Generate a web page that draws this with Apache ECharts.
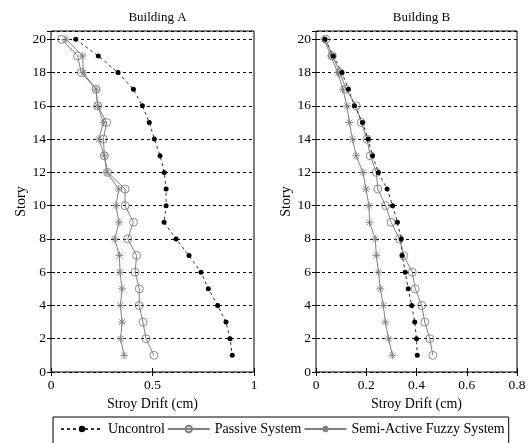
<!DOCTYPE html>
<html>
<head>
<meta charset="utf-8">
<script src="https://cdn.jsdelivr.net/npm/echarts@6/dist/echarts.min.js"></script>
<style>
  html, body { margin: 0; padding: 0; background: #fff; }
  #chart { width: 531px; height: 443px; }
</style>
</head>
<body>
<div id="chart"></div>
<script>
// Story numbers, top floor first
var stories = [20, 19, 18, 17, 16, 15, 14, 13, 12, 11, 10, 9, 8, 7, 6, 5, 4, 3, 2, 1];

// Building A story drift (cm)
var uncontrolA = [0.122, 0.233, 0.330, 0.406, 0.450, 0.484, 0.509, 0.537, 0.558, 0.567,
                  0.567, 0.557, 0.616, 0.680, 0.739, 0.775, 0.821, 0.862, 0.882, 0.893];
var passiveA   = [0.053, 0.131, 0.149, 0.222, 0.230, 0.274, 0.258, 0.263, 0.279, 0.365,
                  0.365, 0.406, 0.378, 0.422, 0.414, 0.435, 0.434, 0.453, 0.468, 0.507];
var semiA      = [0.074, 0.156, 0.159, 0.222, 0.230, 0.258, 0.236, 0.263, 0.275, 0.334,
                  0.320, 0.335, 0.314, 0.337, 0.340, 0.350, 0.342, 0.350, 0.343, 0.360];

// Building B story drift (cm)
var uncontrolB = [0.036, 0.069, 0.103, 0.129, 0.153, 0.185, 0.207, 0.225, 0.248, 0.283,
                  0.305, 0.324, 0.339, 0.343, 0.355, 0.367, 0.381, 0.393, 0.400, 0.403];
var passiveB   = [0.039, 0.065, 0.096, 0.119, 0.160, 0.180, 0.203, 0.216, 0.240, 0.246,
                  0.277, 0.299, 0.332, 0.349, 0.383, 0.395, 0.421, 0.433, 0.453, 0.465];
var semiB      = [0.032, 0.059, 0.087, 0.107, 0.123, 0.133, 0.145, 0.160, 0.187, 0.199,
                  0.211, 0.213, 0.236, 0.240, 0.249, 0.256, 0.268, 0.276, 0.289, 0.304];

var seriesNames = ['Uncontrol', 'Passive System', 'Semi-Active Fuzzy System'];
var titles = ['Building A', 'Building B'];
var xTitle = 'Stroy Drift (cm)';
var yTitle = 'Story';

var FONT = 'Liberation Serif';
var GRAY = '#808080';
var STAR = 'path://M0,-5L0,5M-5,0L5,0M-3.6,-3.6L3.6,3.6M-3.6,3.6L3.6,-3.6';

function pairs(xs) {
  return xs.map(function (v, i) { return [v, stories[i]]; });
}

var panels = [
  { left: 51, width: 203, xMax: 1, xStep: 0.5, data: [uncontrolA, passiveA, semiA] },
  { left: 316, width: 201, xMax: 0.8, xStep: 0.2, data: [uncontrolB, passiveB, semiB] }
];

var grids = [], xAxes = [], yAxes = [], series = [], titleList = [];

panels.forEach(function (p, k) {
  grids.push({
    left: p.left, top: 31, width: p.width, height: 341,
    show: true, borderColor: '#000', borderWidth: 1, backgroundColor: 'transparent'
  });
  titleList.push({
    text: titles[k], left: p.left + p.width / 2, top: 6, textAlign: 'center',
    textStyle: { fontFamily: FONT, fontSize: 13, fontWeight: 'normal', color: '#000' }
  });
  // bottom axis with labels
  xAxes.push({
    type: 'value', gridIndex: k, position: 'bottom', min: 0, max: p.xMax, interval: p.xStep,
    name: xTitle, nameLocation: 'middle', nameGap: 24,
    nameTextStyle: { fontFamily: FONT, fontSize: 14, color: '#000' },
    axisLine: { show: false },
    axisTick: { show: true, inside: true, length: 4, lineStyle: { color: '#000' } },
    axisLabel: { fontFamily: FONT, fontSize: 13.5, color: '#000', margin: 6 },
    splitLine: { show: false }
  });
  // top mirror ticks
  xAxes.push({
    type: 'value', gridIndex: k, position: 'top', min: 0, max: p.xMax, interval: p.xStep,
    axisLine: { show: false },
    axisTick: { show: true, inside: true, length: 4, lineStyle: { color: '#000' } },
    axisLabel: { show: false }, splitLine: { show: false }
  });
  yAxes.push({
    type: 'value', gridIndex: k, position: 'left', min: 0, max: 20.5, interval: 2,
    name: yTitle, nameLocation: 'middle', nameGap: 23,
    nameTextStyle: { fontFamily: FONT, fontSize: 14, color: '#000' },
    axisLine: { show: false },
    axisTick: { show: true, inside: true, length: 4, lineStyle: { color: '#000' } },
    axisLabel: { fontFamily: FONT, fontSize: 13.5, color: '#000', margin: 5, showMaxLabel: false },
    splitLine: { show: true, lineStyle: { color: '#000', width: 1, type: [3, 3] } }
  });
  yAxes.push({
    type: 'value', gridIndex: k, position: 'right', min: 0, max: 20.5, interval: 2,
    axisLine: { show: false },
    axisTick: { show: true, inside: true, length: 4, lineStyle: { color: '#000' } },
    axisLabel: { show: false }, splitLine: { show: false }
  });

  var xi = k * 2, yi = k * 2;
  series.push({
    name: seriesNames[0], type: 'line', xAxisIndex: xi, yAxisIndex: yi,
    data: pairs(p.data[0]),
    lineStyle: { color: '#333', width: 1, type: [3, 3] },
    symbol: 'circle', symbolSize: 5,
    itemStyle: { color: '#000', borderWidth: 0 },
    animation: false, z: 3
  });
  series.push({
    name: seriesNames[1], type: 'line', xAxisIndex: xi, yAxisIndex: yi,
    data: pairs(p.data[1]),
    lineStyle: { color: GRAY, width: 1 },
    symbol: 'circle', symbolSize: 8,
    itemStyle: { color: 'rgba(255,255,255,0)', borderColor: GRAY, borderWidth: 0.9 },
    animation: false, z: 2
  });
  series.push({
    name: seriesNames[2], type: 'line', xAxisIndex: xi, yAxisIndex: yi,
    data: pairs(p.data[2]),
    lineStyle: { color: GRAY, width: 1 },
    symbol: STAR, symbolSize: 8,
    itemStyle: { color: GRAY, borderColor: GRAY, borderWidth: 0.9 },
    animation: false, z: 2
  });
});

var chart = echarts.init(document.getElementById('chart'), null, { renderer: 'canvas' });
chart.setOption({
  backgroundColor: '#fff',
  animation: false,
  title: titleList,
  grid: grids,
  xAxis: xAxes,
  yAxis: yAxes,
  legend: {
    data: seriesNames,
    left: 53, top: 417,
    orient: 'horizontal',
    itemWidth: 42, itemHeight: 8, itemGap: 2,
    padding: [5, 4, 10, 7],
    borderColor: '#000', borderWidth: 1,
    textStyle: { fontFamily: FONT, fontSize: 14, color: '#000' }
  },
  series: series
});
</script>
</body>
</html>
